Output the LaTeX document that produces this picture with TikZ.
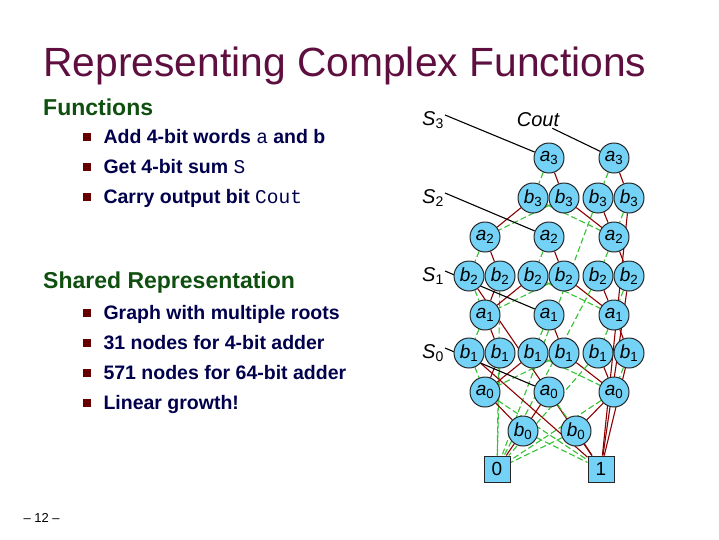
\documentclass[tikz,border=0pt]{standalone}
\usepackage{fontspec}
\setmainfont{Liberation Sans}
\setmonofont{Liberation Mono}
\usetikzlibrary{backgrounds}
\begin{document}
\begin{tikzpicture}[x=1pt,y=-1pt,
  bdd/.style={circle,draw=black!85,line width=1pt,fill=cyan!55!white,minimum size=30pt,inner sep=0pt,font=\fontsize{19}{19}\selectfont\itshape},
  term/.style={rectangle,draw=black!85,line width=1pt,fill=cyan!55!white,minimum size=26pt,inner sep=0pt,font=\fontsize{19}{19}\selectfont},
  lo/.style={draw=green!70!black!80,dash pattern=on 6pt off 3pt,line width=1.1pt},
  hi/.style={draw=red!55!black,line width=1.1pt},
  ptr/.style={draw=black,line width=1.1pt},
  lab/.style={font=\fontsize{20}{20}\selectfont\itshape,inner sep=1pt},
  bul/.style={anchor=base west,font=\fontsize{19.5}{19.5}\selectfont\bfseries,text=blue!30!black},
  sq/.style={fill=red!40!black,minimum size=8pt,inner sep=0pt}]
\useasboundingbox (0,0) rectangle (719,539);
\definecolor{ttl}{HTML}{5F0F3F}
\definecolor{sub}{HTML}{0F4F0F}
\node[anchor=base west,text=ttl,font=\fontsize{40.8}{41}\selectfont,inner sep=0pt] (title) at (43,76) {Representing Complex Functions};
\node[anchor=base west,text=sub,font=\fontsize{23}{23}\selectfont\bfseries,inner sep=0pt] (h1) at (43,115) {Functions};
\node[bul] (t1) at (100,143) {Add 4-bit words {\ttfamily\mdseries a} and b};
\node[bul] (t2) at (100,173) {Get 4-bit sum {\ttfamily\mdseries S}};
\node[bul] (t3) at (100,203) {Carry output bit {\ttfamily\mdseries Cout}};
\node[anchor=base west,text=sub,font=\fontsize{23}{23}\selectfont\bfseries,inner sep=0pt] (h2) at (43,288) {Shared Representation};
\node[bul] (t4) at (100,319) {Graph with multiple roots};
\node[bul] (t5) at (100,349) {31 nodes for 4-bit adder};
\node[bul] (t6) at (100,379) {571 nodes for 64-bit adder};
\node[bul] (t7) at (100,409) {Linear growth!};
\foreach \y/\n in {137/q1,167/q2,197/q3,313/q4,343/q5,373/q6,403/q7} \node[sq] (\n) at (87,\y) {};
\node[anchor=base west,font=\fontsize{13}{13}\selectfont] (pg) at (20,522) {-- 12 --};
% BDD nodes
\node[bdd] (a3s) at (549,158) {a\textsubscript{\upshape 3}};
\node[bdd] (a3c) at (614,158) {a\textsubscript{\upshape 3}};
\node[bdd] (b3s1) at (533,198) {b\textsubscript{\upshape 3}};
\node[bdd] (b3s2) at (564,198) {b\textsubscript{\upshape 3}};
\node[bdd] (b3c1) at (598,198) {b\textsubscript{\upshape 3}};
\node[bdd] (b3c2) at (629,198) {b\textsubscript{\upshape 3}};
\foreach \i/\ya/\yb in {2/237/276,1/315/353}{
  \node[bdd] (a\i n) at (485,\ya) {a\textsubscript{\upshape\i}};
  \node[bdd] (a\i s) at (549,\ya) {a\textsubscript{\upshape\i}};
  \node[bdd] (a\i c) at (614,\ya) {a\textsubscript{\upshape\i}};
  \node[bdd] (b\i n1) at (469,\yb) {b\textsubscript{\upshape\i}};
  \node[bdd] (b\i n2) at (500,\yb) {b\textsubscript{\upshape\i}};
  \node[bdd] (b\i s1) at (533,\yb) {b\textsubscript{\upshape\i}};
  \node[bdd] (b\i s2) at (564,\yb) {b\textsubscript{\upshape\i}};
  \node[bdd] (b\i c1) at (598,\yb) {b\textsubscript{\upshape\i}};
  \node[bdd] (b\i c2) at (629,\yb) {b\textsubscript{\upshape\i}};
}
\node[bdd] (a0n) at (485,392) {a\textsubscript{\upshape 0}};
\node[bdd] (a0s) at (549,392) {a\textsubscript{\upshape 0}};
\node[bdd] (a0c) at (614,392) {a\textsubscript{\upshape 0}};
\node[bdd] (b0l) at (523,431) {b\textsubscript{\upshape 0}};
\node[bdd] (b0r) at (576,431) {b\textsubscript{\upshape 0}};
\node[term] (t0) at (497,469) {0};
\node[term] (t1n) at (601,469) {1};
% edges
\begin{scope}[on background layer]
\draw[lo] (a3s)--(b3s1); \draw[hi] (a3s)--(b3s2);
\draw[lo] (b3s1)--(a2c); \draw[hi] (b3s1)--(a2n);
\draw[lo] (b3s2)--(a2n); \draw[hi] (b3s2)--(a2c);
\draw[lo] (a3c)--(b3c1); \draw[hi] (a3c)--(b3c2);
\draw[lo] (b3c1)--(t0); \draw[hi] (b3c1)--(a2c);
\draw[lo] (b3c2)--(a2c); \draw[hi] (b3c2)--(t1n);
\foreach \i/\j in {2/1,1/0}{
  \draw[lo] (a\i n)--(b\i n1); \draw[hi] (a\i n)--(b\i n2);
  \draw[lo] (b\i n1)--(a\j n); \draw[hi] (b\i n1)--(t1n);
  \draw[lo] (b\i n2)--(t0); \draw[hi] (b\i n2)--(a\j n);
  \draw[lo] (a\i s)--(b\i s1); \draw[hi] (a\i s)--(b\i s2);
  \draw[lo] (b\i s1)--(a\j c); \draw[hi] (b\i s1)--(a\j n);
  \draw[lo] (b\i s2)--(a\j n); \draw[hi] (b\i s2)--(a\j c);
  \draw[lo] (a\i c)--(b\i c1); \draw[hi] (a\i c)--(b\i c2);
  \draw[lo] (b\i c1)--(t0); \draw[hi] (b\i c1)--(a\j c);
  \draw[lo] (b\i c2)--(a\j c); \draw[hi] (b\i c2)--(t1n);
}
\draw[lo] (a0n)--(t1n); \draw[hi] (a0n)--(b0l);
\draw[lo] (a0s)--(b0r); \draw[hi] (a0s)--(b0l);
\draw[lo] (a0c)--(t0); \draw[hi] (a0c)--(b0r);
\draw[lo] (b0l)--(t1n); \draw[hi] (b0l)--(t0);
\draw[lo] (b0r)--(t0); \draw[hi] (b0r)--(t1n);
\end{scope}
% root labels
\node[lab] (S3) at (433,120) {S\textsubscript{\upshape 3}};
\node[lab] (Co) at (538,120) {Cout};
\node[lab] (S2) at (433,198) {S\textsubscript{\upshape 2}};
\node[lab] (S1) at (433,276) {S\textsubscript{\upshape 1}};
\node[lab] (S0) at (433,353) {S\textsubscript{\upshape 0}};
\begin{scope}[on background layer]
\draw[ptr] ([yshift=5pt]S3.east) -- (a3s);
\draw[ptr] ([xshift=-8pt]Co.south east) -- (a3c);
\draw[ptr] ([yshift=5pt]S2.east) -- (a2s);
\draw[ptr] ([yshift=5pt]S1.east) -- (a1s);
\draw[ptr] ([yshift=5pt]S0.east) -- (a0s);
\end{scope}
\end{tikzpicture}
\end{document}
